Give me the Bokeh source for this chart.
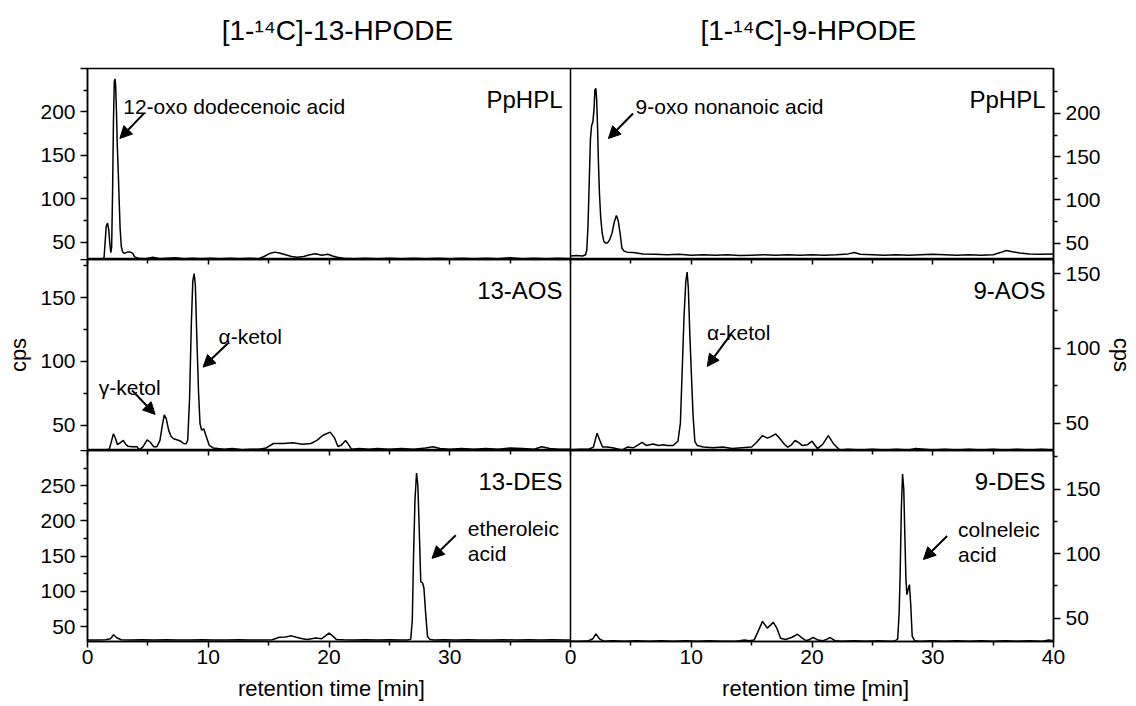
from bokeh.plotting import figure
from bokeh.models import Range1d, LinearAxis, FixedTicker, Label, Arrow, NormalHead, Span
from bokeh.layouts import column
from bokeh.embed import file_html
from bokeh.resources import INLINE

FONT = "Liberation Sans"

# ---------------- data (retention time [min], cps) ----------------
# [1-14C]-13-HPODE, PpHPL
L1_T = [0, 0.6, 1.2, 1.37, 1.47, 1.55, 1.66, 1.76, 1.85, 1.93, 2.0, 2.08, 2.15, 2.22, 2.28, 2.33, 2.4, 2.47, 2.55, 2.63,
        2.7, 2.8, 2.9, 3.05, 3.3, 3.55, 3.75, 3.9, 4.2, 4.8, 5.4, 6.0, 6.6, 7.3, 8.0, 8.7, 9.4, 10.2, 11.0, 11.8,
        12.6, 13.4, 14.2, 14.7, 15.1, 15.5, 15.9, 16.4, 16.9, 17.4, 17.9, 18.4, 18.9, 19.4, 19.9, 20.3, 20.7, 21.2, 22.0, 23.0,
        24, 25, 26, 27, 28, 29, 30, 31, 32, 33, 34, 35, 36, 37, 38, 39, 40]
L1_V = [30.5, 30.5, 30.8, 32, 52, 68, 72, 64, 48, 38, 44, 110, 190, 235, 238, 230, 200, 160, 130, 95,
        66, 45, 39, 37, 38.5, 38.5, 37, 33, 31.5, 31, 32.5, 31, 31.5, 32, 31, 31.5, 31, 31.5, 31, 31.5,
        31, 31.5, 31, 34, 37, 38.5, 37.5, 35.5, 33.5, 32.5, 33.5, 35.5, 36.5, 35, 36, 34, 32.5, 31.5, 31, 31.5,
        31, 31.5, 31, 31.5, 31, 31.5, 31, 31.5, 31, 31.5, 31, 32, 31, 31.5, 31, 31.5, 31]
# [1-14C]-9-HPODE, PpHPL
R1_T = [0, 0.5, 1.0, 1.25, 1.35, 1.45, 1.55, 1.65, 1.75, 1.85, 1.95, 2.02, 2.1, 2.17, 2.24, 2.32, 2.4, 2.5, 2.62, 2.76,
        2.9, 3.05, 3.25, 3.45, 3.62, 3.8, 3.95, 4.1, 4.26, 4.45, 4.7, 5.2, 6, 7, 8, 9, 10, 11, 12, 13,
        14, 15, 16, 17, 18, 19, 20, 21, 22, 23, 23.5, 24, 25, 26, 27, 28, 29, 30, 31, 32,
        33, 34, 35, 35.6, 36.1, 36.6, 37.2, 38, 39, 40]
R1_V = [35, 35.5, 35, 36.5, 42, 70, 120, 170, 186, 190, 205, 227, 229, 215, 184, 140, 107, 80, 62, 52,
        50, 50, 54, 62, 74, 82, 76, 62, 44, 40.5, 39.5, 39, 37.5, 37, 36.5, 37, 36, 36.5, 36, 36.5,
        35.5, 36, 36.5, 36, 36.5, 36, 36.5, 36, 36.5, 37.5, 39, 37, 36.5, 36, 36.5, 36, 36.5, 37, 36.5, 36,
        36.5, 36, 36.5, 39, 41.5, 40, 38.5, 37.5, 37, 37.5]
# [1-14C]-13-HPODE, 13-AOS
L2_T = [0, 0.8, 1.5, 1.8, 1.95, 2.14, 2.3, 2.47, 2.7, 2.96, 3.15, 3.34, 3.7, 4.1, 4.3, 4.6, 4.94, 5.2, 5.48, 5.75,
        6.0, 6.2, 6.36, 6.52, 6.72, 6.92, 7.13, 7.4, 7.68, 7.95, 8.17, 8.3, 8.45, 8.6, 8.72, 8.83, 8.93, 9.05, 9.2, 9.32,
        9.45, 9.63, 9.8, 10.09, 10.4, 10.8, 11.3, 12.0, 12.8, 13.5, 14.2, 14.8, 15.4, 16.2, 17.0, 17.8, 18.5, 19.0, 19.5, 20.1,
        20.45, 20.75, 21.05, 21.37, 21.6, 21.85, 22.5, 23.3, 24, 25, 26, 27, 28, 28.6, 29.2, 30, 31, 32, 33, 34,
        35, 36, 37, 37.6, 38.3, 39, 40]
L2_V = [30.5, 30.5, 30.5, 31, 36, 43, 40, 34.7, 36, 37.9, 35, 33.4, 33, 33, 30.5, 33, 38.4, 36.5, 33, 33,
        38, 50, 58, 55, 46, 41, 39.2, 38.5, 37.5, 35.5, 35.3, 38, 70, 130, 163, 169, 160, 120, 75, 51,
        46, 47, 42, 34, 32, 31.5, 31, 31.5, 30.5, 31, 31, 32, 35.5, 35.5, 36, 35, 35.5, 38, 42, 44.4,
        40, 33, 34.5, 37.9, 35, 31, 31.5, 31, 31.5, 31, 31.5, 31, 32, 33, 31.5, 31, 31.5, 31, 31.5, 31,
        32, 31.5, 31, 33, 31.5, 31, 31]
# [1-14C]-9-HPODE, 9-AOS
R2_T = [0, 0.8, 1.5, 1.9, 2.2, 2.45, 2.65, 3.0, 3.5, 4.0, 4.26, 4.7, 5.2, 5.6, 5.93, 6.3, 6.84, 7.3, 7.7, 8.02,
        8.5, 8.9, 9.1, 9.25, 9.4, 9.55, 9.66, 9.76, 9.88, 10.0, 10.15, 10.3, 10.5, 11.0, 11.8, 12.6, 13.4, 14.2, 15.0, 15.4,
        15.9, 16.3, 16.6, 17.0, 17.4, 17.7, 18.0, 18.3, 18.6, 18.9, 19.2, 19.6, 20.0, 20.45, 20.9, 21.35, 21.8, 22.3, 23, 24,
        25, 26, 27, 28, 28.6, 29.3, 30, 31, 32, 33, 34, 35, 36, 37, 38, 39, 40]
R2_V = [32.2, 32.5, 32.5, 34, 43.3, 38, 34, 34, 33.5, 32.5, 32, 34, 33.5, 35.5, 37.2, 35, 36, 35, 35.5, 35,
        35, 38, 50, 85, 121, 145, 151, 140, 110, 85, 55, 37.7, 35, 34, 33.5, 34, 33, 33.5, 34, 37,
        41.7, 40, 41, 42.8, 39, 36, 33.9, 35.5, 38.4, 37, 35, 35.5, 37.9, 33, 36, 41.7, 36, 32, 32.5, 32,
        32.5, 32, 32.5, 32, 33, 32.5, 32, 32.5, 32, 32.5, 32, 32.5, 32, 32.5, 32, 32.5, 32]
# [1-14C]-13-HPODE, 13-DES
L3_T = [0, 0.8, 1.5, 1.9, 2.16, 2.45, 2.8, 3.5, 4.5, 5.5, 6.5, 7.5, 8.5, 9.5, 10.5, 11.5, 12.5, 13.5, 14.5, 15.3,
        15.9, 16.4, 16.9, 17.3, 17.8, 18.2, 18.9, 19.4, 20.0, 20.3, 20.6, 21.2, 22, 23, 24, 25, 26, 26.5, 26.77, 26.9,
        27.0, 27.12, 27.25, 27.36, 27.46, 27.6, 27.75, 27.86, 28.0, 28.16, 28.35, 28.7, 29.5, 30.5, 31.5, 32.5, 33.5, 34.5, 35.5, 36.5,
        37.5, 38.5, 39.5, 40]
L3_V = [31, 31, 31.5, 33, 38.5, 34, 31.5, 31, 31.5, 31, 31.5, 31, 31, 31.5, 31, 31, 31.5, 31, 31, 31.5,
        35, 35.5, 37, 35, 33, 32, 34, 33, 40.8, 37, 32, 31.5, 31, 31.5, 31, 31.5, 31, 31, 32, 60,
        149, 230, 268, 250, 196, 113.8, 112, 105, 70, 36, 32, 31, 31.5, 31, 31.5, 31, 31, 31.5, 31, 31.5,
        31, 31.5, 31, 31]
# [1-14C]-9-HPODE, 9-DES
R3_T = [0, 0.8, 1.5, 1.85, 2.1, 2.4, 2.8, 3.5, 4.5, 5.5, 6.5, 7.5, 8.5, 9.5, 10.5, 11.5, 12.5, 13.5, 14.0, 14.4,
        14.8, 15.2, 15.5, 15.9, 16.3, 16.8, 17.1, 17.4, 17.8, 18.3, 18.8, 19.2, 19.5, 19.8, 20.1, 20.5, 20.9, 21.2, 21.5, 21.9,
        22.5, 23.5, 24.5, 25.5, 26.5, 26.9, 27.1, 27.22, 27.3, 27.4, 27.5, 27.6, 27.7, 27.78, 27.86, 27.95, 28.07, 28.18, 28.3, 28.5,
        29, 30, 31, 32, 33, 34, 35, 36, 37, 38, 39, 39.6, 40]
R3_V = [32, 32, 32.5, 34, 37.8, 34, 32, 32.5, 32, 32.5, 32, 32.5, 32, 32.5, 32, 32.5, 32, 32, 32.5, 33,
        32.5, 33, 39, 47.5, 42.3, 46.7, 42, 34.4, 33.5, 35, 37.5, 34.5, 32.5, 33.5, 35, 33, 32.5, 33.5, 35, 32.5,
        32, 32.5, 32, 32.5, 32, 32.5, 34, 55, 83.8, 135, 161.8, 150, 109.8, 80, 68.2, 72, 76, 60, 35.8, 32.5,
        32, 32.5, 32, 32.5, 32, 32.5, 32, 32.5, 32, 32.5, 32, 33, 32.5]

TITLES = ["[1-\u00b9\u2074C]-13-HPODE", "[1-\u00b9\u2074C]-9-HPODE"]
PANEL_NAMES = [("PpHPL", "PpHPL"), ("13-AOS", "9-AOS"), ("13-DES", "9-DES")]
X_TICKS = [0, 10, 20, 30, 40, 50, 60, 70, 80]          # left panel 0-40, right panel re-labelled 0-40
X_MINOR = [5, 15, 25, 35, 45, 55, 65, 75]
X_TICK_LABELS = {0: "0", 10: "10", 20: "20", 30: "30", 40: "0", 50: "10", 60: "20", 70: "30", 80: "40"}
X_TITLE = "retention time [min]"
Y_TITLE = "cps"

# ---------------- layout constants ----------------
W = 1136
FL = 87
FW = 972
FR = W - FL - FW
PH = 191
TB = 68
BB = 65
TITLE_POS = [20.7, 59.7]
XTITLE_POS = [20.2, 60.3]

PANELS = [
    dict(lt=L1_T, lv=L1_V, rt=R1_T, rv=R1_V, lr=(30, 250), rr=(31, 252),
         lmaj=[50, 100, 150, 200, 250], lmin=[75, 125, 175, 225], ltop=250,
         rmaj=[50, 100, 150, 200], rmin=[75, 125, 175, 225]),
    dict(lt=L2_T, lv=L2_V, rt=R2_T, rv=R2_V, lr=(30, 180), rr=(31.7, 159.4),
         lmaj=[50, 100, 150, 180], lmin=[75, 125, 175], ltop=180,
         rmaj=[50, 100, 150], rmin=[75, 125]),
    dict(lt=L3_T, lv=L3_V, rt=R3_T, rv=R3_V, lr=(29, 300), rr=(31.9, 180),
         lmaj=[50, 100, 150, 200, 250, 300], lmin=[75, 125, 175, 225, 275], ltop=300,
         rmaj=[50, 100, 150], rmin=[75, 125, 175]),
]


def style_axis(ax, out_major, out_minor, in_major=0, in_minor=0, fs="21px", standoff=5):
    ax.axis_line_color = "black"
    ax.axis_line_width = 1.5
    ax.major_tick_line_color = "black"
    ax.major_tick_line_width = 1.5
    ax.minor_tick_line_color = "black"
    ax.minor_tick_line_width = 1.5
    ax.major_tick_out = out_major
    ax.minor_tick_out = out_minor
    ax.major_tick_in = in_major
    ax.minor_tick_in = in_minor
    ax.major_label_text_font = FONT
    ax.major_label_text_font_size = fs
    ax.major_label_text_color = "black"
    ax.major_label_standoff = standoff
    ax.axis_label_text_font = FONT
    ax.axis_label_text_font_style = "normal"
    ax.axis_label_text_color = "black"


def text_axis(ticks, labels, fs, standoff):
    ax = LinearAxis(ticker=FixedTicker(ticks=ticks, minor_ticks=[]),
                    major_label_overrides=dict(zip(ticks, labels)))
    ax.axis_line_color = None
    ax.major_tick_line_color = None
    ax.minor_tick_line_color = None
    ax.major_tick_out = 0
    ax.major_tick_in = 0
    ax.minor_tick_out = 0
    ax.minor_tick_in = 0
    ax.major_label_text_font = FONT
    ax.major_label_text_font_size = fs
    ax.major_label_text_color = "black"
    ax.major_label_standoff = standoff
    return ax


def add_label(p, x, y, text, size="21px", align="left", xo=0, yo=0, xr="default", yr="default"):
    p.add_layout(Label(x=x, y=y, text=text, x_offset=xo, y_offset=yo,
                       text_align=align, text_baseline="alphabetic", text_font=FONT,
                       text_font_size=size, text_color="black",
                       x_range_name=xr, y_range_name=yr))


def add_arrow(p, xs, ys, xe, ye, xr="default", yr="default"):
    p.add_layout(Arrow(end=NormalHead(size=12, fill_color="black", line_color="black", line_width=1),
                       x_start=xs, y_start=ys, x_end=xe, y_end=ye, line_color="black", line_width=2,
                       x_range_name=xr, y_range_name=yr))


figs = []
for i, d in enumerate(PANELS):
    top = TB if i == 0 else 0
    bot = BB if i == 2 else 0
    p = figure(width=W, height=PH + top + bot, x_range=Range1d(0, 80), y_range=Range1d(*d["lr"]),
               output_backend="svg", toolbar_location=None,
               x_axis_location=None, y_axis_location=None,
               min_border_left=FL, min_border_right=FR, min_border_top=top, min_border_bottom=bot)
    p.extra_x_ranges = {"xr": Range1d(-40, 40)}
    p.extra_y_ranges = {"r": Range1d(*d["rr"])}
    p.grid.visible = False
    p.outline_line_color = "black"
    p.outline_line_width = 1.5
    p.background_fill_color = "white"
    p.border_fill_color = "white"

    # left y axis
    ly = LinearAxis(ticker=FixedTicker(ticks=d["lmaj"], minor_ticks=d["lmin"]),
                    major_label_overrides={d["ltop"]: ""})
    style_axis(ly, 7, 4, standoff=5)
    p.add_layout(ly, "left")
    # right y axis
    ry = LinearAxis(y_range_name="r", ticker=FixedTicker(ticks=d["rmaj"], minor_ticks=d["rmin"]))
    style_axis(ry, 7, 4, standoff=5)
    p.add_layout(ry, "right")
    if i == 1:
        ly.axis_label = Y_TITLE
        ly.axis_label_text_font_size = "22px"
        ly.axis_label_standoff = 6
        ry.axis_label = Y_TITLE
        ry.axis_label_text_font_size = "22px"
        ry.axis_label_standoff = 5

    # x axes
    if i == 0:
        p.add_layout(text_axis(TITLE_POS, TITLES, "28px", 23), "above")
    else:
        # ticks on the boundary between stacked panels (no labels)
        ax_top = LinearAxis(ticker=FixedTicker(ticks=X_TICKS, minor_ticks=X_MINOR))
        style_axis(ax_top, 0, 0, in_major=5, in_minor=4, fs="0px", standoff=0)
        ax_top.major_label_text_color = None
        p.add_layout(ax_top, "above")
    if i == 2:
        ax_b = LinearAxis(ticker=FixedTicker(ticks=X_TICKS, minor_ticks=X_MINOR),
                          major_label_overrides=X_TICK_LABELS)
        style_axis(ax_b, 6, 4, standoff=2)
        p.add_layout(ax_b, "below")
        p.add_layout(text_axis(XTITLE_POS, [X_TITLE, X_TITLE], "22px", 9), "below")

    # divider between the two columns
    p.add_layout(Span(location=40, dimension="height", line_color="black", line_width=1.5))

    # traces
    p.line(d["lt"], d["lv"], line_color="black", line_width=1.5)
    p.line(d["rt"], d["rv"], line_color="black", line_width=1.5, x_range_name="xr", y_range_name="r")

    # panel names
    ln, rn = PANEL_NAMES[i]
    add_label(p, 40, d["lr"][1], ln, size="24px", align="right", xo=-8, yo=-31)
    add_label(p, 80, d["lr"][1], rn, size="24px", align="right", xo=-8, yo=-31)
    figs.append(p)

p1, p2, p3 = figs

# annotations: PpHPL
add_label(p1, 2.96, 205.8, "12-oxo dodecenoic acid")
add_arrow(p1, 4.66, 198, 2.68, 169.4)
add_label(p1, 5.39, 207.6, "9-oxo nonanoic acid", xr="xr", yr="r")
add_arrow(p1, 5.18, 200, 3.14, 171, xr="xr", yr="r")
# AOS
add_label(p2, 10.85, 119.7, "\u03b1-ketol")
add_arrow(p2, 11.61, 114, 9.57, 95.5)
add_label(p2, 0.94, 79.6, "\u03b3-ketol")
add_arrow(p2, 3.69, 77.2, 5.6, 58.3)
add_label(p2, 11.3, 110.7, "\u03b1-ketol", xr="xr", yr="r")
add_arrow(p2, 13.28, 109.4, 11.32, 87.9, xr="xr", yr="r")
# DES
add_label(p3, 31.5, 189.7, "etheroleic")
add_label(p3, 31.5, 154.4, "acid")
add_arrow(p3, 30.5, 179.8, 28.53, 146.9)
add_label(p3, 32.1, 119.1, "colneleic", xr="xr", yr="r")
add_label(p3, 32.1, 99.7, "acid", xr="xr", yr="r")
add_arrow(p3, 31.19, 113.7, 29.23, 95.5, xr="xr", yr="r")

layout = column(p1, p2, p3, spacing=0)
open("out.html", "w").write(file_html(layout, INLINE))
